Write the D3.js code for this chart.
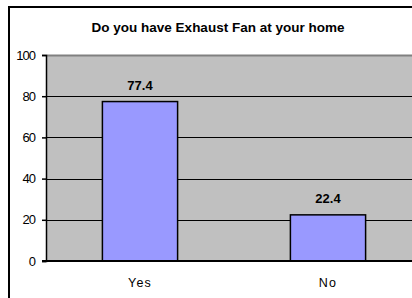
<!DOCTYPE html>
<html><head><meta charset="utf-8">
<script src="https://cdn.jsdelivr.net/npm/d3@7/dist/d3.min.js"></script>
<style>html,body{margin:0;padding:0;background:#fff;overflow:hidden}svg{display:block}text{font-family:"Liberation Sans",Arial,sans-serif}</style>
</head><body>
<script>
const categories = ["Yes", "No"];
const values = [77.4, 22.4];
const yTicks = [0, 20, 40, 60, 80, 100];
const title = "Do you have Exhaust Fan at your home";

const W = 412, H = 298;
const svg = d3.select("body").append("svg").attr("width", W).attr("height", H);

const pL = 46, pR = 422, pT = 55, pB = 261;
const x = d3.scaleBand().domain(categories).range([pL, pR]).paddingInner(0).paddingOuter(0);
const y = d3.scaleLinear().domain([0, 100]).range([pB, pT]);

// outer chart border: left and top edges only
svg.append("line").attr("x1", 9).attr("x2", 9).attr("y1", 6).attr("y2", H).attr("stroke", "#000").attr("stroke-width", 2);
svg.append("line").attr("x1", 8).attr("x2", W).attr("y1", 7).attr("y2", 7).attr("stroke", "#000").attr("stroke-width", 2);

svg.append("rect").attr("x", pL).attr("y", pT).attr("width", W - pL).attr("height", pB - pT)
  .attr("fill", "#C0C0C0");
svg.append("line").attr("x1", pL).attr("x2", W).attr("y1", pT + 0.5).attr("y2", pT + 0.5)
  .attr("stroke", "#808080").attr("stroke-width", 2);

// gridlines
svg.selectAll("line.grid").data(yTicks.filter(d => d > 0 && d < 100)).enter().append("line")
  .attr("class", "grid")
  .attr("x1", pL).attr("x2", W)
  .attr("y1", d => Math.round(y(d)) + 0.5).attr("y2", d => Math.round(y(d)) + 0.5)
  .attr("stroke", "#000").attr("stroke-width", 1);

// bars
const bw = x.bandwidth() * 0.4;
svg.selectAll("rect.bar").data(values).enter().append("rect").attr("class", "bar")
  .attr("x", (d, i) => x(categories[i]) + x.bandwidth() / 2 - bw / 2)
  .attr("y", d => y(d)).attr("width", bw).attr("height", d => pB - y(d))
  .attr("fill", "#9999FF").attr("stroke", "#000").attr("stroke-width", 1.5);

// value labels
svg.selectAll("text.vl").data(values).enter().append("text").attr("class", "vl")
  .attr("x", (d, i) => x(categories[i]) + x.bandwidth() / 2)
  .attr("y", d => y(d) - 12).attr("text-anchor", "middle")
  .attr("font-size", 13).attr("font-weight", "bold").text(d => d.toFixed(1));

// y axis
const yAxis = d3.axisLeft(y).tickValues(yTicks).tickSize(4).tickPadding(7);
const gy = svg.append("g").attr("transform", `translate(${pL},0)`).call(yAxis);
gy.select(".domain").attr("stroke", "#000").attr("stroke-width", 1.5);
gy.selectAll(".tick line").attr("stroke", "#000").attr("stroke-width", 1.5);
gy.selectAll("text").attr("font-size", 13).attr("fill", "#000")
  .attr("font-family", "'Liberation Sans',Arial,sans-serif").attr("letter-spacing", "-1");

// x axis
const xAxis = d3.axisBottom(x).tickSize(0).tickSizeOuter(0).tickPadding(17);
const gx = svg.append("g").attr("transform", `translate(0,${pB})`).call(xAxis);
gx.select(".domain").remove();
gx.selectAll("text").attr("font-size", 12.5).attr("fill", "#000")
  .attr("font-family", "'Liberation Sans',Arial,sans-serif").attr("letter-spacing", "1.2");
svg.append("line").attr("x1", pL - 4).attr("x2", W).attr("y1", pB).attr("y2", pB)
  .attr("stroke", "#000").attr("stroke-width", 2);

// title
svg.append("text").attr("x", 218).attr("y", 32).attr("text-anchor", "middle")
  .attr("font-size", 13.5).attr("font-weight", "bold").text(title);
</script>
</body></html>
